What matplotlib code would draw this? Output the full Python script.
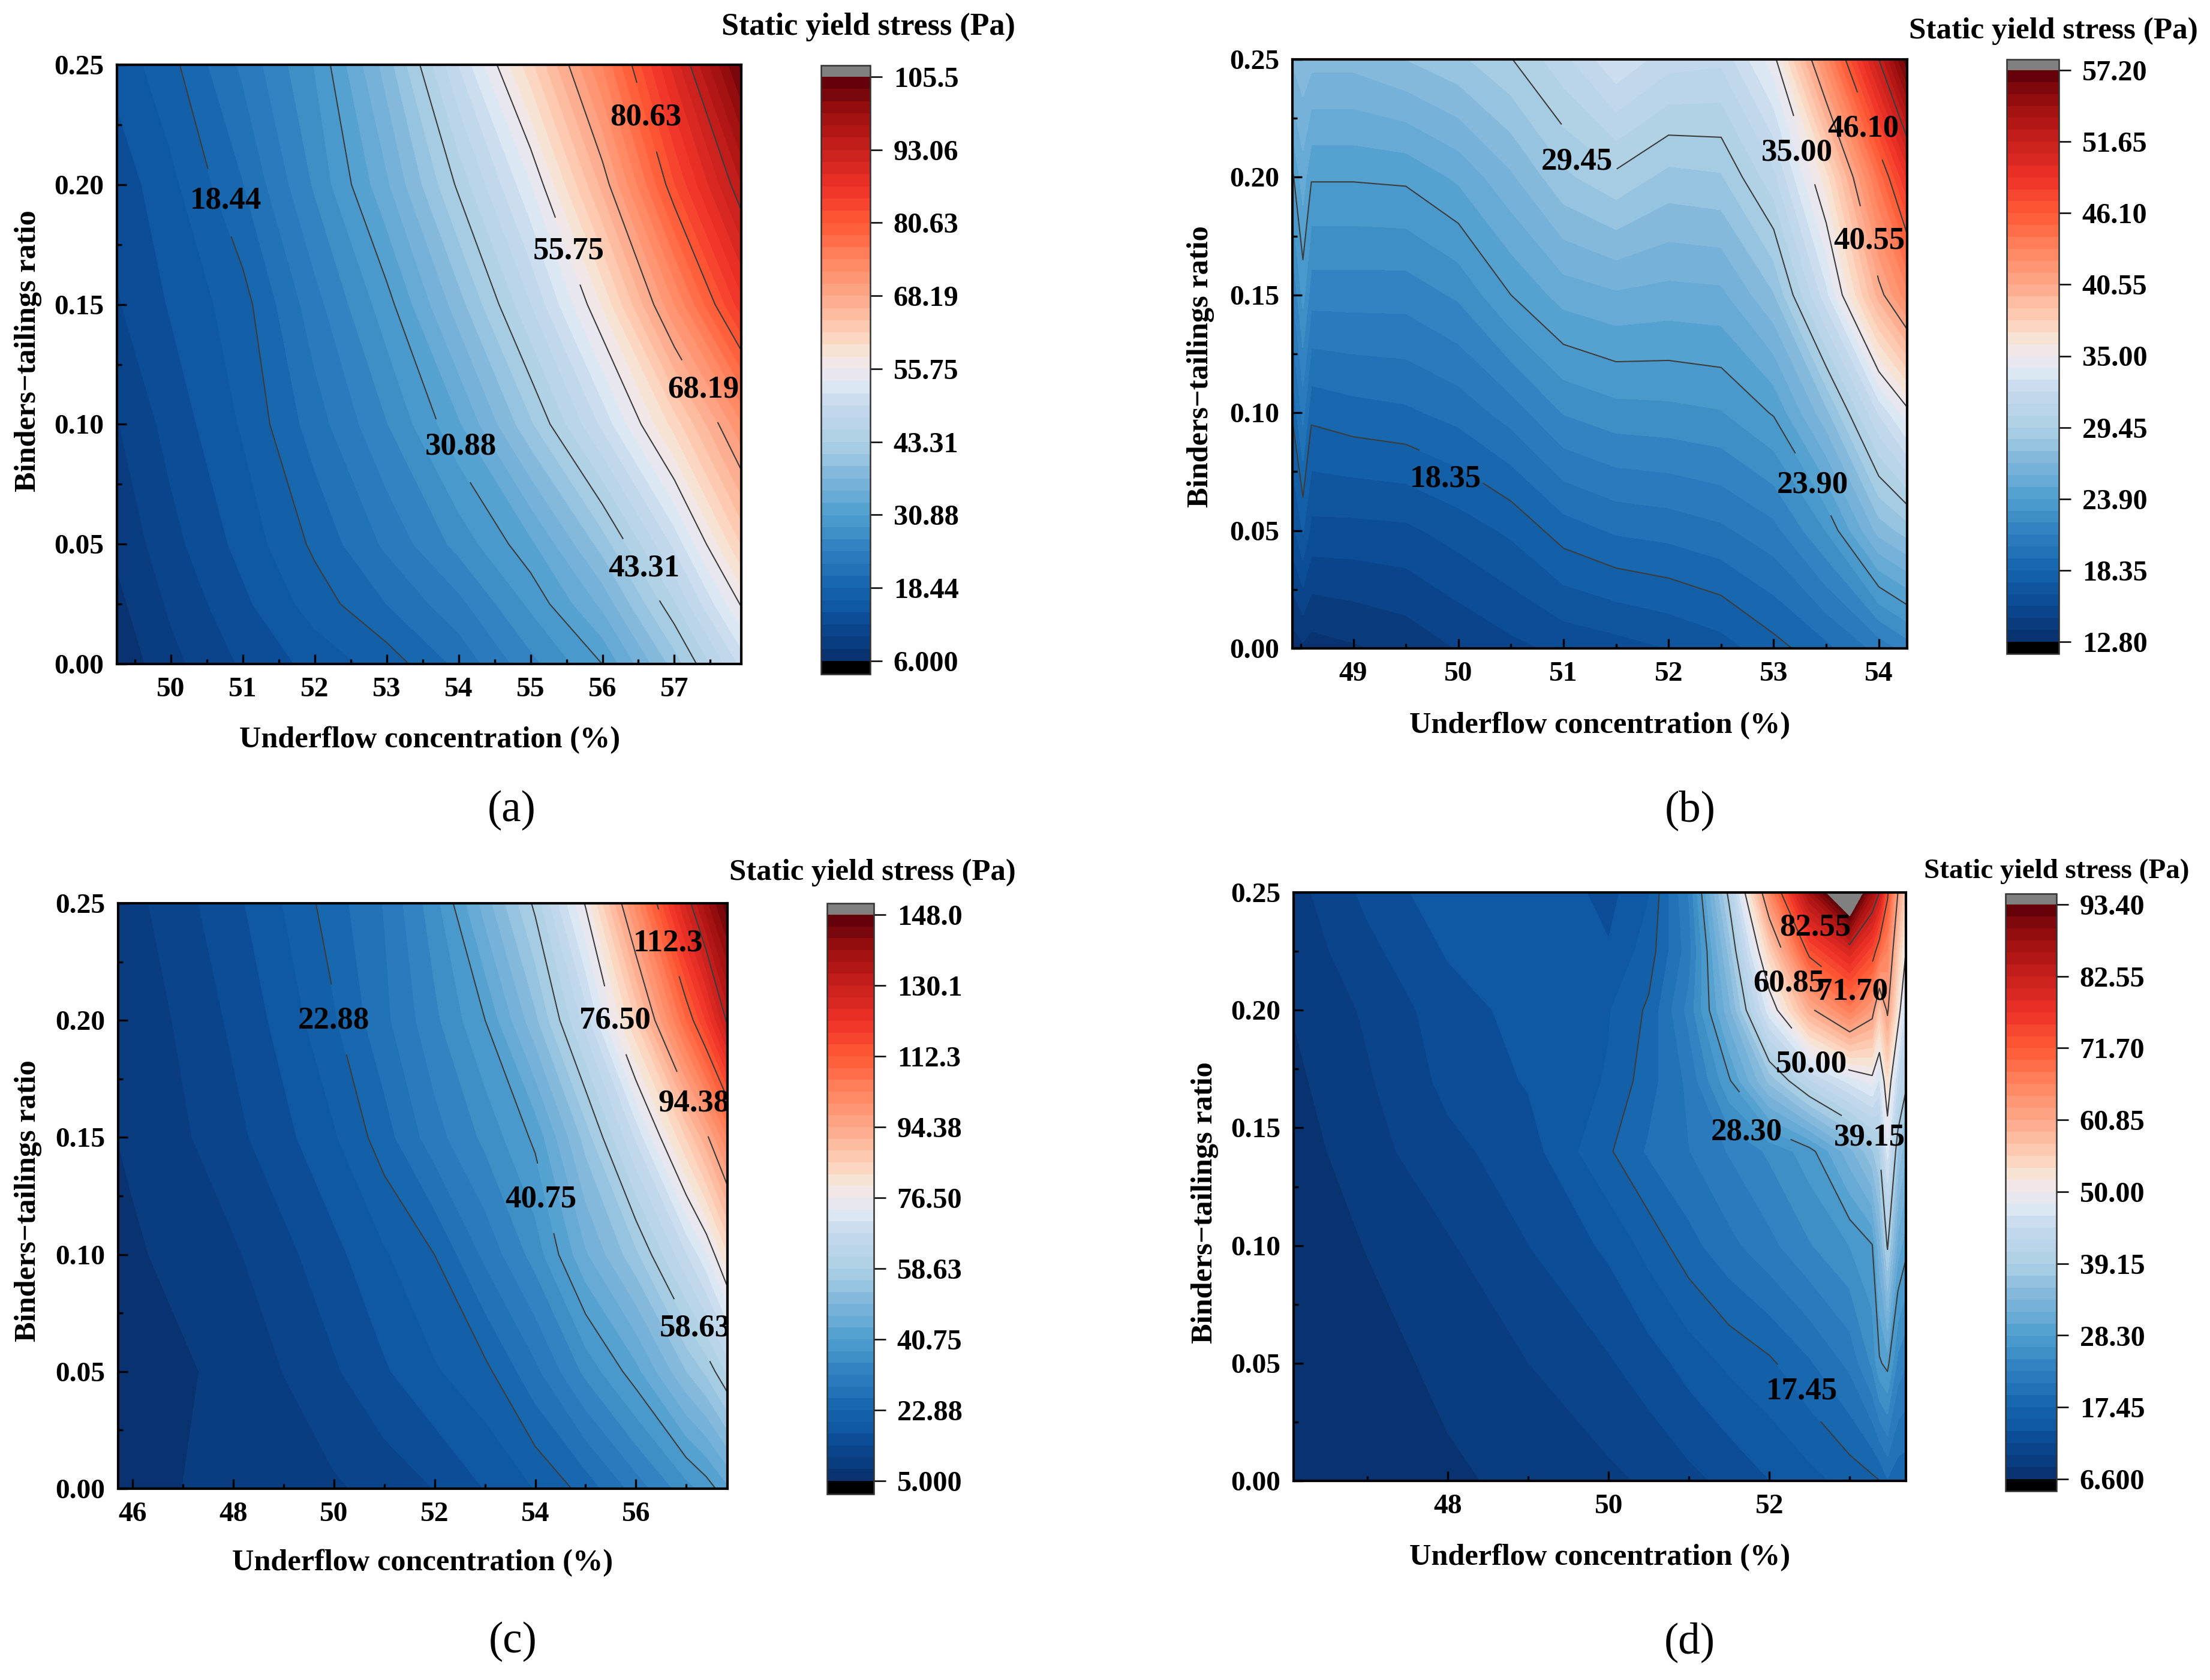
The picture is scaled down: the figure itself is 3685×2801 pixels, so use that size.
import numpy as np
import matplotlib
matplotlib.use("Agg")
import matplotlib.pyplot as plt
from matplotlib.colors import LinearSegmentedColormap
from matplotlib.ticker import MultipleLocator

W, H = 3685, 2801
DPI = 300
plt.rcParams['font.family'] = ['Liberation Serif', 'DejaVu Serif']
plt.rcParams['font.weight'] = 'bold'
plt.rcParams['axes.labelweight'] = 'bold'

# ---------- data ----------
ya = [0, .025, .05, .10, .15, .20, .25]
xa = [49.25, 50, 51, 52, 53, 54, 55, 56, 57, 57.93]
za = [
    [6.5, 9.5, 12.5, 15.0, 17.3, 21.0, 26.0, 30.9, 40.0, 50.0],
    [7.5, 10.5, 13.8, 17.3, 20.5, 24.0, 29.2, 35.5, 45.0, 56.0],
    [8.5, 11.5, 15.0, 18.9, 23.0, 27.4, 32.4, 40.0, 50.0, 62.0],
    [10.0, 13.0, 16.6, 21.5, 26.6, 32.6, 40.8, 50.0, 60.7, 72.0],
    [12.0, 14.5, 17.6, 23.8, 30.0, 38.2, 47.3, 58.0, 72.3, 86.0],
    [13.0, 15.8, 20.4, 27.0, 34.6, 43.8, 53.4, 66.7, 82.5, 95.0],
    [15.0, 17.8, 23.0, 28.9, 38.0, 49.5, 61.2, 74.4, 89.7, 104.0],
]
ticks_a = [6.0, 18.44, 30.88, 43.31, 55.75, 68.19, 80.63, 93.06, 105.5]
ticklabels_a = ['6.000', '18.44', '30.88', '43.31', '55.75', '68.19', '80.63', '93.06', '105.5']

yb = [0, .05, .10, .15, .20, .25]
xb = [48.42, 48.52, 48.6, 49, 49.5, 50, 50.5, 51, 51.5, 52, 52.5, 53, 53.5, 54, 54.27]
zb = [
    [13.2, 13.5, 13.3, 13.6, 14.0, 14.7, 15.3, 15.8, 16.1, 16.5, 17.0, 18.0, 19.0, 20.5, 21.5],
    [16.2, 17.5, 16.2, 16.2, 16.3, 16.9, 17.6, 18.8, 19.4, 19.6, 20.0, 20.8, 23.0, 27.0, 28.0],
    [18.5, 20.5, 18.6, 18.9, 19.1, 19.6, 20.6, 22.1, 22.6, 22.7, 22.9, 24.0, 27.3, 32.3, 34.6],
    [21.0, 23.3, 21.5, 21.5, 21.5, 22.2, 23.9, 25.2, 25.6, 25.4, 25.5, 27.5, 32.8, 40.0, 43.0],
    [23.7, 25.3, 24.0, 24.0, 24.1, 25.0, 26.5, 28.3, 29.2, 28.2, 28.4, 31.0, 36.4, 44.5, 49.0],
    [26.8, 27.3, 27.0, 27.0, 27.6, 28.3, 29.4, 31.0, 33.0, 31.7, 31.5, 34.6, 42.9, 51.65, 57.0],
]
ticks_b = [12.8, 18.35, 23.9, 29.45, 35.0, 40.55, 46.1, 51.65, 57.2]
ticklabels_b = ['12.80', '18.35', '23.90', '29.45', '35.00', '40.55', '46.10', '51.65', '57.20']

yc = [0, .05, .10, .15, .20, .25]
xc = [45.71, 46, 47, 48, 49, 50, 51, 52, 53, 54, 55, 56, 57, 57.4, 57.82]
zc = [
    [5.3, 5.8, 8.0, 8.8, 9.5, 10.5, 12.0, 14.0, 17.0, 20.0, 24.0, 30.0, 36.5, 39.0, 43.0],
    [6.0, 6.3, 7.5, 9.0, 11.0, 13.5, 16.5, 19.5, 22.0, 28.0, 35.5, 42.6, 52.5, 56.2, 62.0],
    [7.5, 7.5, 9.0, 10.5, 13.0, 16.0, 19.5, 22.9, 29.5, 36.0, 46.2, 54.8, 67.2, 72.9, 82.0],
    [8.0, 8.5, 10.5, 13.0, 16.0, 19.5, 24.5, 30.5, 35.5, 41.5, 53.8, 67.9, 85.5, 93.4, 103.0],
    [8.5, 9.0, 11.5, 14.5, 18.0, 22.5, 28.0, 34.0, 40.7, 51.8, 65.8, 85.5, 109.0, 118.5, 131.0],
    [9.0, 10.0, 13.0, 16.0, 20.0, 24.5, 29.0, 36.5, 48.0, 59.5, 76.9, 101.4, 127.7, 138.0, 147.0],
]
ticks_c = [5.0, 22.88, 40.75, 58.63, 76.5, 94.38, 112.3, 130.1, 148.0]
ticklabels_c = ['5.000', '22.88', '40.75', '58.63', '76.50', '94.38', '112.3', '130.1', '148.0']

yd = [0, .05, .10, .14, .17, .20, .225, .25]
xd = [46.08, 47, 48, 49, 50, 50.5, 51, 51.5, 52, 52.5, 53, 53.28, 53.37, 53.47, 53.6, 53.7]
zd = [
    [6.7, 7.0, 8.0, 9.0, 9.8, 10.5, 11.5, 12.5, 13.8, 15.0, 16.3, 17.0, 17.4, 19.0, 18.0, 18.0],
    [6.8, 7.5, 9.0, 10.2, 11.8, 13.0, 14.5, 16.0, 17.1, 19.0, 21.5, 25.0, 28.0, 29.0, 24.0, 23.0],
    [7.0, 8.5, 10.0, 12.0, 14.2, 16.3, 18.6, 20.5, 22.3, 24.5, 26.5, 28.2, 33.0, 39.5, 31.0, 29.0],
    [7.5, 9.5, 11.5, 13.0, 17.2, 19.5, 21.0, 23.0, 25.0, 27.5, 33.0, 37.0, 39.0, 47.0, 37.0, 34.0],
    [8.0, 10.0, 12.5, 14.0, 15.8, 18.5, 21.5, 28.0, 36.0, 42.5, 47.0, 49.0, 46.0, 53.0, 44.0, 40.0],
    [8.5, 10.5, 13.0, 14.5, 15.5, 17.8, 23.5, 33.0, 47.5, 60.0, 67.0, 62.5, 56.0, 61.5, 52.0, 45.0],
    [9.0, 11.5, 14.0, 14.8, 14.0, 16.5, 22.0, 36.0, 55.0, 73.0, 80.0, 74.0, 69.0, 66.0, 56.0, 50.0],
    [9.5, 12.5, 15.0, 15.5, 13.2, 15.5, 23.0, 40.0, 65.5, 86.8, 102.0, 87.0, 82.5, 72.5, 60.85, 55.0],
]
ticks_d = [6.6, 17.45, 28.3, 39.15, 50.0, 60.85, 71.7, 82.55, 93.4]
ticklabels_d = ['6.600', '17.45', '28.30', '39.15', '50.00', '60.85', '71.70', '82.55', '93.40']

cmap_pos = [0, .0625, .125, .1875, .25, .3125, .375, .4375, .47, .5, .525, .5625, .625, .6875, .75, .81, .875, .9375, 1]
cmap_col = ['#08306b', '#0a4a94', '#1565ad', '#2f7fc0', '#4f9fce', '#7db5db', '#add0e4', '#c5d9ee', '#dbe7f3',
            '#efe6ec', '#f5e8dc', '#fdd0b8', '#fda88a', '#ff8560', '#ff5a36', '#ef3328', '#c8201c', '#a01010', '#5c0008']

title_text = 'Static yield stress (Pa)'
xlabel_text = 'Underflow concentration (%)'
ylabel_text = 'Binders\u2212tailings ratio'

panels = [
    dict(x=xa, y=ya, z=za, ticks=ticks_a, labels=ticklabels_a, tag='(a)', tfs=12.5,
         ax=(195, 1236, 108, 1107), cb=(1369, 1451, 109, 1124), cbi=(128, 1102),
         xmaj=1, xmin=.5, xl=(305, 525), yl=(20, 249), tl=(616, 19), lab=(363, 575),
         clab={18.44: (50.76, .1934), 55.75: (55.53, .1724), 80.63: (56.6, .228),
               68.19: (57.4, .1146), 30.88: (54.03, .0906), 43.31: (56.58, .04)}),
    dict(x=xb, y=yb, z=zb, ticks=ticks_b, labels=ticklabels_b, tag='(b)', tfs=12.3,
         ax=(2155, 3180, 99, 1081), cb=(3346, 3433, 99, 1090), cbi=(117, 1070),
         xmaj=1, xmin=.5, xl=(1135, 515), yl=(852, 260), tl=(1457, 22), lab=(1199, 575),
         clab={29.45: (51.13, .2065), 35.0: (53.22, .2105), 46.1: (53.85, .2207),
               40.55: (53.91, .173), 18.35: (49.88, .0718), 23.9: (53.37, .0695)}),
    dict(x=xc, y=yc, z=zc, ticks=ticks_c, labels=ticklabels_c, tag='(c)', tfs=12.2,
         ax=(197, 1213, 1506, 2482), cb=(1379, 1457, 1506, 2491), cbi=(1525, 2469),
         xmaj=2, xmin=1, xl=(300, 1109), yl=(20, 852), tl=(619, 619), lab=(364, 1165),
         clab={22.88: (50.0, .2), 76.5: (55.58, .2), 112.3: (56.64, .233),
               94.38: (57.15, .1645), 40.75: (54.11, .1235), 58.63: (57.18, .0686)}),
    dict(x=xd, y=yd, z=zd, ticks=ticks_d, labels=ticklabels_d, tag='(d)', tfs=11.3,
         ax=(2157, 3178, 1488, 2469), cb=(3344, 3429, 1490, 2486), cbi=(1508, 2466),
         xmaj=2, xmin=1, xl=(1135, 1105), yl=(855, 853), tl=(1459, 618), lab=(1199, 1165),
         clab={82.55: (52.57, .2352), 60.85: (52.24, .2113), 71.7: (53.03, .2077),
               50.0: (52.52, .177), 28.3: (51.72, .1483), 39.15: (53.25, .1458), 17.45: (52.4, .038)}),
]

THUMB = W / 1568.0
fig = plt.figure(figsize=(W / DPI, H / DPI), dpi=DPI)


def fx(px):
    return px / W


def fy(py):
    return 1 - py / H


def rect(box):
    l, r, t, b = box
    return [fx(l), fy(b), (r - l) / W, (b - t) / H]


for p in panels:
    ticks = p['ticks']
    levels = np.linspace(ticks[0], ticks[-1], 49)
    cmap = LinearSegmentedColormap.from_list('bluered', list(zip(cmap_pos, cmap_col)), N=256)
    cmap.set_under('#000000')
    cmap.set_over('#808080')

    ax = fig.add_axes(rect(p['ax']))
    X, Y = np.meshgrid(p['x'], p['y'])
    Z = np.array(p['z'])
    ax.set_xlim(p['x'][0], p['x'][-1])
    ax.set_ylim(0, .25)
    cf = ax.contourf(X, Y, Z, levels=levels, cmap=cmap, extend='both')
    cf.set_edgecolor('face')
    cf.set_linewidth(0.2)

    for lv in ticks[1:-1]:
        cs = ax.contour(X, Y, Z, levels=[lv], colors='#3c3c3c', linewidths=0.5)
        if lv in p['clab']:
            pos = p['clab'][lv]
            cs.clabel(fmt={lv: p['labels'][ticks.index(lv)]}, manual=[pos], inline=True,
                      inline_spacing=0, fontsize=12.7, colors='black')
            t = cs.labelTexts[-1]
            t.set_rotation(0)
            t.set_position(pos)
            t.set_ha('center')
            t.set_va('center')
            t.set_clip_on(True)
            t.set_clip_path(ax.patch)

    ax.xaxis.set_major_locator(MultipleLocator(p['xmaj']))
    ax.xaxis.set_minor_locator(MultipleLocator(p['xmin']))
    ax.yaxis.set_major_locator(MultipleLocator(.05))
    ax.yaxis.set_minor_locator(MultipleLocator(.025))
    ax.yaxis.set_major_formatter('{x:.2f}')
    ax.tick_params(which='major', direction='in', length=3.8, width=0.8, labelsize=11.4, pad=5.2)
    ax.tick_params(which='minor', direction='in', length=2.0, width=0.8)
    for s in ax.spines.values():
        s.set_linewidth(1.0)
        s.set_zorder(10)
    for lab in ax.get_xticklabels() + ax.get_yticklabels():
        lab.set_fontweight('bold')

    ax.set_xlabel(xlabel_text, fontsize=12.1, fontweight='bold', va='center')
    ax.xaxis.set_label_coords(fx(p['xl'][0] * THUMB), fy(p['xl'][1] * THUMB), transform=fig.transFigure)
    ax.set_ylabel(ylabel_text, fontsize=12.1, fontweight='bold', va='center')
    ax.yaxis.set_label_coords(fx(p['yl'][0] * THUMB), fy(p['yl'][1] * THUMB), transform=fig.transFigure)

    # colour bar
    l, r, t, b = p['cb']
    it, ib = p['cbi']
    cax = fig.add_axes(rect(p['cb']))
    main = ib - it
    cb = fig.colorbar(cf, cax=cax, extend='both', extendrect=True, drawedges=False,
                      extendfrac=[(b - ib) / main, (it - t) / main])
    cb.set_ticks(ticks, labels=p['labels'])
    cb.minorticks_off()
    cb.ax.tick_params(which='major', direction='out', length=4.8, width=0.6, labelsize=11.6, pad=4.5)
    cb.outline.set_linewidth(0.6)
    cb.outline.set_edgecolor('#333333')
    for lab in cb.ax.get_yticklabels():
        lab.set_fontweight('bold')

    fig.text(fx(p['tl'][0] * THUMB), fy(p['tl'][1] * THUMB), title_text, fontsize=p['tfs'],
             fontweight='bold', ha='center', va='center')
    fig.text(fx(p['lab'][0] * THUMB), fy(p['lab'][1] * THUMB), p['tag'], fontsize=17.5,
             fontweight='normal', ha='center', va='center')

fig.savefig('out.png', dpi=DPI)
